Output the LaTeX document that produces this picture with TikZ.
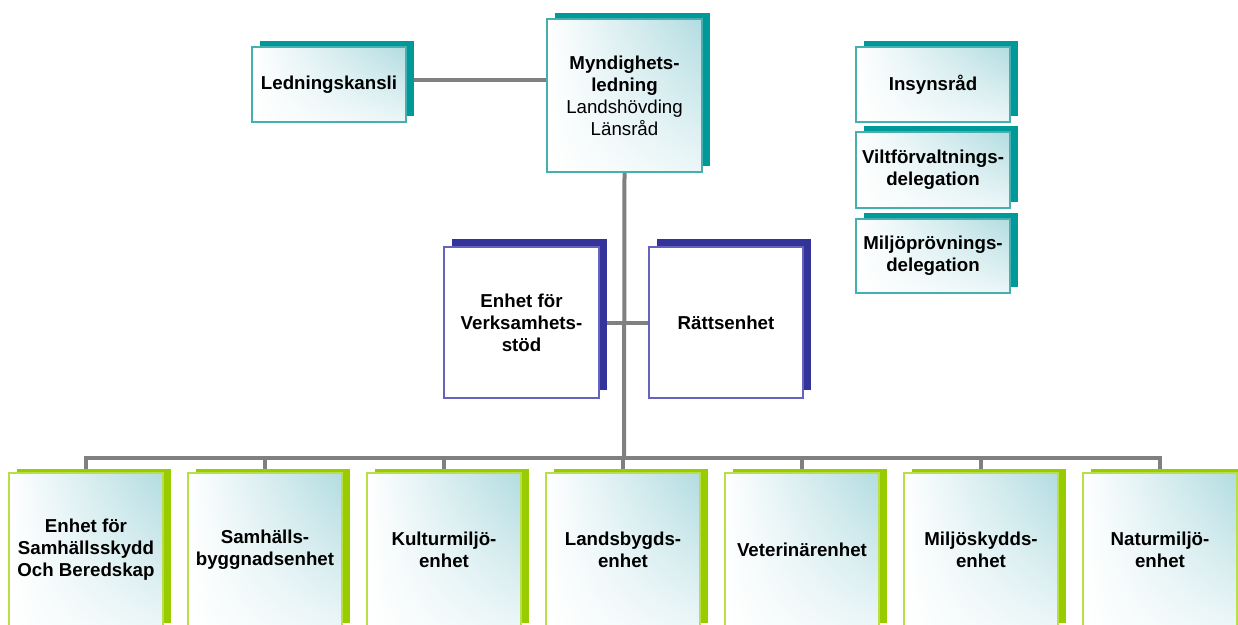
\documentclass[tikz,border=0pt]{standalone}
\usepackage{fontspec}
\setmainfont{Liberation Sans}
\usetikzlibrary{shadows,shadings,backgrounds}
\definecolor{tealdark}{RGB}{0,153,153}
\definecolor{tealborder}{RGB}{70,176,176}
\definecolor{teallight}{RGB}{178,220,225}
\definecolor{navydark}{RGB}{51,51,153}
\definecolor{navyborder}{RGB}{100,100,190}
\definecolor{greendark}{RGB}{153,204,0}
\definecolor{greenborder}{RGB}{184,224,70}
\definecolor{linegray}{RGB}{128,128,128}
\tikzset{
  box/.style={rectangle, minimum width=154pt, inner sep=0pt, align=center,
    font=\fontsize{18.7}{22}\selectfont\bfseries, line width=1.5pt, text=black},
  gradfill/.style={upper left=white, upper right=teallight, lower left=white, lower right=white!75!teallight},
  tealbox/.style={box, gradfill, draw=tealborder,
    general shadow={fill=tealdark, shadow xshift=8pt, shadow yshift=6pt}},
  navybox/.style={box, fill=white, draw=navyborder, minimum height=151pt,
    general shadow={fill=navydark, shadow xshift=8pt, shadow yshift=8pt}},
  greenbox/.style={box, gradfill, draw=greenborder, minimum height=154pt,
    general shadow={fill=greendark, shadow xshift=8pt, shadow yshift=4pt}},
  conn/.style={draw=linegray, line width=4pt}
}
\begin{document}
\begin{tikzpicture}[x=1pt,y=-1pt]
\useasboundingbox (0,0) rectangle (1238,624);
\clip (0,0) rectangle (1238,624);

% top level
\node[tealbox, minimum height=75pt] (lk) at (329,84.5) {Ledningskansli};
\node[tealbox, minimum width=155pt, minimum height=153pt, font=\fontsize{18.7}{22}\selectfont] (myn) at (624.5,95.5)
  {\textbf{Myndighets-}\\\textbf{ledning}\\Landshövding\\Länsråd};

% right column
\node[tealbox, minimum height=75pt] (ins) at (933,84.5) {Insynsråd};
\node[tealbox, minimum height=76pt] (vilt) at (933,170) {Viltförvaltnings-\\delegation};
\node[tealbox, minimum height=74pt] (milj) at (933,256) {Miljöprövnings-\\delegation};

% staff units
\node[navybox, minimum width=155pt] (verk) at (521.5,322.5) {Enhet för\\Verksamhets-\\stöd};
\node[navybox] (ratt) at (726,322.5) {Rättsenhet};

% line units
\node[greenbox] (b1) at (86,550) {Enhet för\\Samhällsskydd\\Och Beredskap};
\node[greenbox] (b2) at (265,550) {Samhälls-\\byggnadsenhet};
\node[greenbox] (b3) at (444,550) {Kulturmiljö-\\enhet};
\node[greenbox] (b4) at (623,550) {Landsbygds-\\enhet};
\node[greenbox] (b5) at (802,550) {Veterinärenhet};
\node[greenbox] (b6) at (981,550) {Miljöskydds-\\enhet};
\node[greenbox] (b7) at (1160,550) {Naturmiljö-\\enhet};

\coordinate (bar) at (624,458);

\begin{pgfonlayer}{background}
  \draw[conn] ([yshift=5pt]lk.east) -- ([yshift=5pt]lk.east -| myn.west);
  \draw[conn] (myn.south) -- (bar);
  \draw[conn] (verk.east) -- (ratt.west);
  \draw[conn] (b1.north) |- (bar) -| (b7.north);
  \foreach \b in {b2,b3,b4,b5,b6}{
    \draw[conn] (\b.north) -- (\b.north |- bar);
  }
\end{pgfonlayer}
\end{tikzpicture}
\end{document}
